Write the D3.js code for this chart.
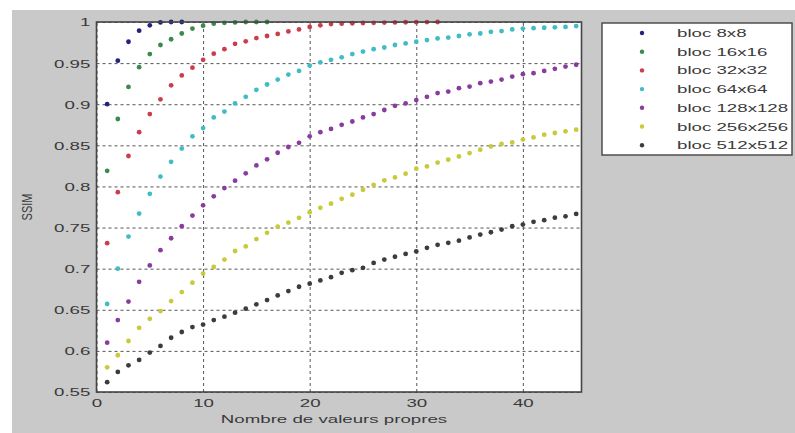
<!DOCTYPE html>
<html>
<head>
<meta charset="utf-8">
<script src="https://cdn.jsdelivr.net/npm/d3@7"></script>
<style>
  body { margin: 0; background: #fff; }
  text { font-family: "Liberation Sans", Arial, sans-serif; fill: #3a3a3a; }
</style>
</head>
<body>
<div id="container"></div>
<script>
const WIDTH = 795;
const HEIGHT = 433;
const PLOT = { LEFT: 96.5, RIGHT: 581.5, TOP: 22, BOTTOM: 392 };
const SX = 1.7; // the picture is stretched horizontally

// SSIM per number of eigenvalues (x = 1..n)
const bloc8 = [0.900, 0.953, 0.976, 0.9895, 0.996, 0.9995, 1.0, 1.0];
const bloc16 = [0.819, 0.882, 0.921, 0.945, 0.961, 0.972, 0.979, 0.986, 0.992, 0.9955,
  0.998, 0.999, 0.9995, 1.0, 1.0, 1.0];
const bloc32 = [0.731, 0.793, 0.837, 0.866, 0.888, 0.906, 0.923, 0.935, 0.9445, 0.954,
  0.9615, 0.967, 0.9735, 0.9765, 0.9805, 0.983, 0.9855, 0.9885, 0.991, 0.994,
  0.996, 0.9975, 0.998, 0.9985, 0.9988, 0.999, 0.9993, 0.9995, 0.9997, 0.9998, 0.9999, 1.0];
const bloc64 = [0.657, 0.700, 0.739, 0.767, 0.791, 0.812, 0.830, 0.846, 0.861, 0.871,
  0.884, 0.891, 0.901, 0.909, 0.9175, 0.924, 0.930, 0.936, 0.9405, 0.947,
  0.951, 0.954, 0.957, 0.961, 0.964, 0.967, 0.969, 0.972, 0.974, 0.976,
  0.978, 0.980, 0.981, 0.983, 0.985, 0.986, 0.988, 0.989, 0.991, 0.992,
  0.9925, 0.993, 0.9935, 0.994, 0.995];
const bloc128 = [0.610, 0.6375, 0.660, 0.684, 0.704, 0.7225, 0.737, 0.7516, 0.7646, 0.777,
  0.788, 0.798, 0.807, 0.816, 0.8256, 0.833, 0.841, 0.848, 0.853, 0.861,
  0.866, 0.870, 0.875, 0.879, 0.884, 0.888, 0.893, 0.898, 0.901, 0.905,
  0.909, 0.9135, 0.9154, 0.9195, 0.9215, 0.9256, 0.9276, 0.930, 0.9336, 0.9365,
  0.9377, 0.9405, 0.943, 0.9458, 0.948];
const bloc256 = [0.580, 0.5947, 0.612, 0.628, 0.639, 0.6484, 0.6606, 0.6715, 0.683, 0.694,
  0.702, 0.711, 0.7215, 0.727, 0.736, 0.7436, 0.751, 0.756, 0.7618, 0.7686,
  0.774, 0.779, 0.785, 0.790, 0.796, 0.802, 0.8074, 0.811, 0.8155, 0.8216,
  0.8244, 0.829, 0.8325, 0.8365, 0.8406, 0.8447, 0.8487, 0.8516, 0.8535, 0.857,
  0.8596, 0.863, 0.865, 0.867, 0.869];
const bloc512 = [0.562, 0.5744, 0.5825, 0.589, 0.598, 0.606, 0.616, 0.623, 0.629, 0.632,
  0.6375, 0.6416, 0.6465, 0.6513, 0.6566, 0.6618, 0.6675, 0.6727, 0.678, 0.6817,
  0.6857, 0.6897, 0.695, 0.6982, 0.701, 0.707, 0.711, 0.7145, 0.718, 0.721,
  0.7254, 0.729, 0.7314, 0.734, 0.738, 0.7415, 0.7443, 0.7476, 0.7516, 0.7536,
  0.757, 0.759, 0.762, 0.7637, 0.7666];

const seriesNames = ['bloc 8x8', 'bloc 16x16', 'bloc 32x32', 'bloc 64x64',
  'bloc 128x128', 'bloc 256x256', 'bloc 512x512'];
const seriesValues = [bloc8, bloc16, bloc32, bloc64, bloc128, bloc256, bloc512];
const seriesColors = ['#23237e', '#3b8a4c', '#cc3d4c', '#3fbcc4', '#8a3c9e', '#c9c93a', '#3c3c3c'];

const xTicks = [0, 10, 20, 30, 40];
const yTicks = [0.55, 0.6, 0.65, 0.7, 0.75, 0.8, 0.85, 0.9, 0.95, 1];

const svg = d3.select('#container')
  .append('svg')
    .attr('width', WIDTH)
    .attr('height', HEIGHT);

// figure background
svg.append('rect').attr('x', 12).attr('y', 10)
  .attr('width', WIDTH - 12).attr('height', HEIGHT - 10)
  .attr('fill', '#c9c9c9');

const x = d3.scaleLinear().domain([0, 45.5]).range([PLOT.LEFT, PLOT.RIGHT]);
const y = d3.scaleLinear().domain([0.55, 1]).range([PLOT.BOTTOM, PLOT.TOP]);

svg.append('rect')
  .attr('x', PLOT.LEFT).attr('y', PLOT.TOP)
  .attr('width', PLOT.RIGHT - PLOT.LEFT).attr('height', PLOT.BOTTOM - PLOT.TOP)
  .attr('fill', '#ffffff');

// grid
const gridX = svg.append('g')
  .attr('transform', `translate(0, ${PLOT.BOTTOM})`)
  .call(d3.axisBottom(x).tickValues(xTicks).tickSize(-(PLOT.BOTTOM - PLOT.TOP)).tickFormat(''));
const gridY = svg.append('g')
  .attr('transform', `translate(${PLOT.LEFT}, 0)`)
  .call(d3.axisLeft(y).tickValues(yTicks).tickSize(-(PLOT.RIGHT - PLOT.LEFT)).tickFormat(''));
[gridX, gridY].forEach(g => {
  g.select('.domain').remove();
  g.selectAll('line').attr('stroke', '#555').attr('stroke-width', 1).attr('stroke-dasharray', '3,3');
});

// dots
const plot = svg.append('g');
seriesValues.forEach((vals, i) => {
  plot.selectAll(null)
    .data(vals.map((v, k) => ({ n: k + 1, v: v })))
    .enter()
    .append('circle')
      .attr('cx', d => x(d.n))
      .attr('cy', d => y(d.v))
      .attr('r', 2.4)
      .attr('fill', seriesColors[i]);
});

// axes box
svg.append('rect')
  .attr('x', PLOT.LEFT).attr('y', PLOT.TOP)
  .attr('width', PLOT.RIGHT - PLOT.LEFT).attr('height', PLOT.BOTTOM - PLOT.TOP)
  .attr('fill', 'none').attr('stroke', '#444').attr('stroke-width', 1.6);

// tick labels
const axL = svg.append('g')
  .attr('transform', `translate(${PLOT.LEFT}, 0)`)
  .call(d3.axisLeft(y).tickValues(yTicks).tickSize(0).tickFormat(d => d3.format('')(+d.toFixed(2))));
axL.select('.domain').remove();
axL.selectAll('text')
  .attr('x', -3.6).attr('dy', '0.36em')
  .attr('transform', `scale(${SX},1)`)
  .style('font-size', '11px').attr('fill', '#3a3a3a');

const axB = svg.append('g')
  .attr('transform', `translate(0, ${PLOT.BOTTOM})`)
  .call(d3.axisBottom(x).tickValues(xTicks).tickSize(0));
axB.select('.domain').remove();
axB.selectAll('text')
  .attr('y', 7).attr('dy', '0.71em')
  .attr('transform', `scale(${SX},1)`)
  .style('font-size', '11px').attr('fill', '#3a3a3a');

// axis titles
svg.append('text')
  .attr('transform', `translate(334, 423) scale(${SX},1)`)
  .attr('text-anchor', 'middle')
  .style('font-size', '11px')
  .text('Nombre de valeurs propres');

svg.append('text')
  .attr('transform', `translate(32, 207) scale(1.25,1) rotate(-90)`)
  .attr('text-anchor', 'middle')
  .style('font-size', '11px')
  .text('SSIM');

// legend
const legend = svg.append('g');
legend.append('rect')
  .attr('x', 602).attr('y', 23).attr('width', 190).attr('height', 132)
  .attr('fill', '#fff').attr('stroke', '#444').attr('stroke-width', 1.4);

const rows = legend.selectAll('.row')
  .data(seriesNames)
  .enter()
  .append('g')
    .attr('class', 'row')
    .attr('transform', (d, i) => `translate(0, ${33 + i * 18.7})`);

rows.append('circle')
  .attr('cx', 642).attr('cy', 0).attr('r', 2.2)
  .attr('fill', (d, i) => seriesColors[i]);

rows.append('text')
  .attr('transform', `translate(677, 4) scale(${SX},1)`)
  .style('font-size', '11px')
  .text(d => d);
</script>
</body>
</html>
